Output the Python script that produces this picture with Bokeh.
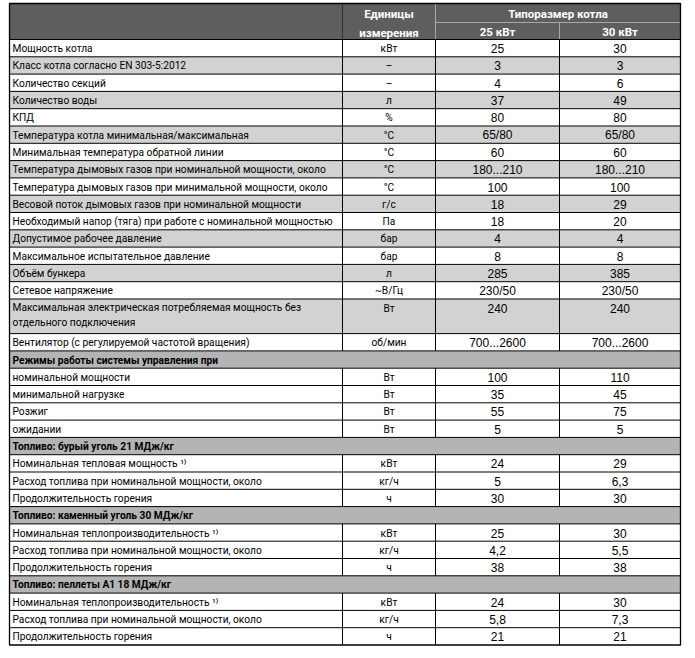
from bokeh.plotting import figure
from bokeh.models import Range1d
from bokeh.core.properties import value
from bokeh.embed import file_html
from bokeh.resources import INLINE

# ---------------- data ----------------
header_units = "Единицы\nизмерения"
header_group = "Типоразмер котла"
size_names = ["25 кВт", "30 кВт"]

labels = [
    "Мощность котла",
    "Класс котла согласно EN 303-5:2012",
    "Количество секций",
    "Количество воды",
    "КПД",
    "Температура котла минимальная/максимальная",
    "Минимальная температура обратной линии",
    "Температура дымовых газов при номинальной мощности, около",
    "Температура дымовых газов при минимальной мощности, около",
    "Весовой поток дымовых газов при номинальной мощности",
    "Необходимый напор (тяга) при работе с номинальной мощностью",
    "Допустимое рабочее давление",
    "Максимальное испытательное давление",
    "Объём бункера",
    "Сетевое напряжение",
    "Максимальная электрическая потребляемая мощность без\nотдельного подключения",
    "Вентилятор (с регулируемой частотой вращения)",
    "Режимы работы системы управления при",
    "номинальной мощности",
    "минимальной нагрузке",
    "Розжиг",
    "ожидании",
    "Топливо: бурый уголь 21 МДж/кг",
    "Номинальная тепловая мощность ¹⁾",
    "Расход топлива при номинальной мощности, около",
    "Продолжительность горения",
    "Топливо: каменный уголь 30 МДж/кг",
    "Номинальная теплопроизводительность ¹⁾",
    "Расход топлива при номинальной мощности, около",
    "Продолжительность горения",
    "Топливо: пеллеты A1 18 МДж/кг",
    "Номинальная теплопроизводительность ¹⁾",
    "Расход топлива при номинальной мощности, около",
    "Продолжительность горения",
]
units = [
    "кВт", "–", "–", "л", "%", "°C", "°C", "°C", "°C", "г/с", "Па", "бар", "бар",
    "л", "~В/Гц", "Вт", "об/мин",
    None, "Вт", "Вт", "Вт", "Вт",
    None, "кВт", "кг/ч", "ч",
    None, "кВт", "кг/ч", "ч",
    None, "кВт", "кг/ч", "ч",
]
val_25 = [
    "25", "3", "4", "37", "80", "65/80", "60", "180...210", "100", "18", "18", "4", "8",
    "285", "230/50", "240", "700...2600",
    "", "100", "35", "55", "5",
    "", "24", "5", "30",
    "", "25", "4,2", "38",
    "", "24", "5,8", "21",
]
val_30 = [
    "30", "3", "6", "49", "80", "65/80", "60", "180...210", "100", "29", "20", "4", "8",
    "385", "230/50", "240", "700...2600",
    "", "110", "45", "75", "5",
    "", "29", "6,3", "30",
    "", "30", "5,5", "38",
    "", "30", "7,3", "21",
]

# ---------------- layout / style ----------------
X0, X1, X2, X3, X4 = 10, 343, 436, 560, 681
TOP, HMID, HBOT = 5, 24, 41
BOTTOM = 646.5
units_per_row = [2 if "\n" in l else 1 for l in labels]
RH = (BOTTOM - HBOT) / sum(units_per_row)

C_HEAD = "#5e5e5e"
C_HEAD_LINE = "#a8a8a8"
C_GRAY = "#d2d2d2"
C_SECT = "#b4b4b4"
NARROW = "Roboto"
REG = "Liberation Sans"
LAB_SIZE = "10.2px"

tops, bots, fills = [], [], []
y = HBOT
for i, (lab, u) in enumerate(zip(labels, units)):
    h = units_per_row[i] * RH
    tops.append(y)
    bots.append(y + h)
    if u is None:
        fills.append(C_SECT)
    elif i <= 16 and i % 2 == 1:
        fills.append(C_GRAY)
    else:
        fills.append("#ffffff")
    y += h

p = figure(width=688, height=650, output_backend="svg", toolbar_location=None,
           x_range=Range1d(1, 689), y_range=Range1d(652, 2), min_border=0,
           background_fill_color="white", border_fill_color="white")
p.axis.visible = False
p.grid.visible = False
p.outline_line_color = None

# row backgrounds
p.quad(left=X0, right=X4, top=tops, bottom=bots, fill_color=fills, line_color=None)

# header
p.quad(left=X0, right=X4, top=TOP, bottom=HBOT, fill_color=C_HEAD, line_color=None)
p.segment(x0=[X2, X3, X2], y0=[TOP, HMID, HMID], x1=[X2, X3, X4], y1=[HBOT, HBOT, HMID],
          line_color=C_HEAD_LINE, line_width=1)
p.segment(x0=[X1], y0=[TOP], x1=[X1], y1=[HBOT], line_color="#333333", line_width=1)

# horizontal grid lines
p.segment(x0=X0, x1=X4, y0=tops, y1=tops, line_color="black", line_width=1)
# vertical lines for data rows
vx, vt, vb = [], [], []
for i, u in enumerate(units):
    if u is None:
        continue
    for xx in (X1, X2, X3):
        vx.append(xx); vt.append(tops[i]); vb.append(bots[i])
p.segment(x0=vx, x1=vx, y0=vt, y1=vb, line_color="black", line_width=1)

# outer border
p.quad(left=X0, right=X4, top=TOP, bottom=BOTTOM, fill_color=None,
       line_color="black", line_width=1.3)

# header texts
p.text(x=[(X1 + X2) / 2], y=[(TOP + HBOT) / 2 + 2], text=[header_units],
       text_align="center", text_baseline="middle", text_color="white",
       text_font=value(NARROW), text_font_style="bold", text_font_size="11.5px",
       text_line_height=1.35)
p.text(x=[(X2 + X4) / 2], y=[(TOP + HMID) / 2 + 0.5], text=[header_group],
       text_align="center", text_baseline="middle", text_color="white",
       text_font=value(NARROW), text_font_style="bold", text_font_size="11.5px")
p.text(x=[(X2 + X3) / 2, (X3 + X4) / 2], y=[(HMID + HBOT) / 2 + 0.5] * 2, text=size_names,
       text_align="center", text_baseline="middle", text_color="white",
       text_font=value(NARROW), text_font_style="bold", text_font_size="11.5px")

# body texts
single = [i for i, l in enumerate(labels) if "\n" not in l and units[i] is not None]
sect = [i for i, u in enumerate(units) if u is None]
multi = [i for i, l in enumerate(labels) if "\n" in l]
ly = [tops[i] + RH / 2 + 0.5 for i in range(len(labels))]

p.text(x=[X0 + 3] * len(single), y=[ly[i] for i in single], text=[labels[i] for i in single],
       text_baseline="middle", text_color="black", text_font=value(NARROW),
       text_font_size=LAB_SIZE)
p.text(x=[X0 + 3] * len(sect), y=[ly[i] for i in sect], text=[labels[i] for i in sect],
       text_baseline="middle", text_color="black", text_font=value(NARROW),
       text_font_style="bold", text_font_size=LAB_SIZE)
p.text(x=[X0 + 3] * len(multi), y=[tops[i] + 3 for i in multi], text=[labels[i] for i in multi],
       text_baseline="top", text_color="black", text_font=value(NARROW),
       text_font_size=LAB_SIZE, text_line_height=1.4)

rows = [i for i, u in enumerate(units) if u is not None]
ry = [ly[i] for i in rows]
p.text(x=[(X1 + X2) / 2] * len(rows), y=ry, text=[units[i] for i in rows],
       text_align="center", text_baseline="middle", text_color="black",
       text_font=value(NARROW), text_font_size=LAB_SIZE)
p.text(x=[(X2 + X3) / 2] * len(rows), y=ry, text=[val_25[i] for i in rows],
       text_align="center", text_baseline="middle", text_color="black",
       text_font=value(REG), text_font_size="12px")
p.text(x=[(X3 + X4) / 2] * len(rows), y=ry, text=[val_30[i] for i in rows],
       text_align="center", text_baseline="middle", text_color="black",
       text_font=value(REG), text_font_size="12px")

open("out.html", "w").write(file_html(p, INLINE))
